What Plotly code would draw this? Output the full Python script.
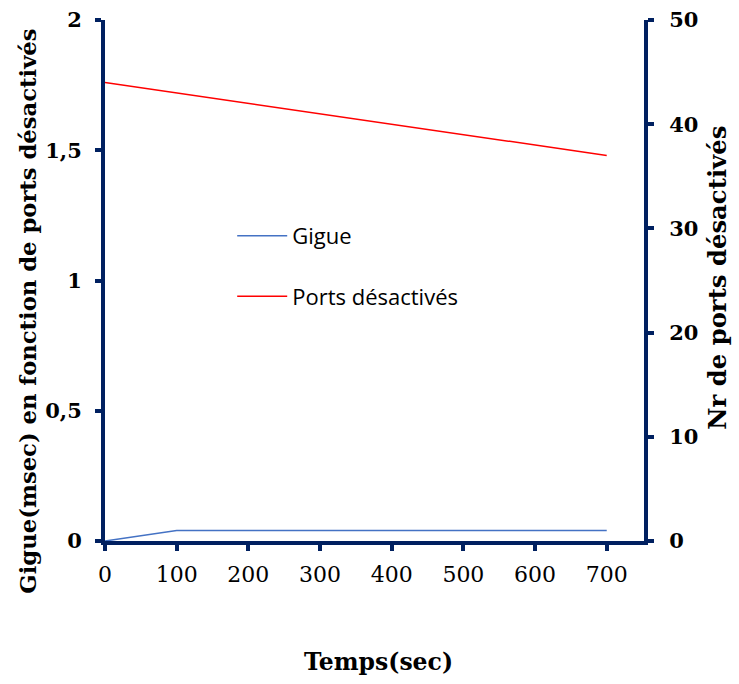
import plotly.graph_objects as go

# Measured data
temps = [0, 100, 200, 300, 400, 500, 600, 700]
gigue = [0, 0.04, 0.04, 0.04, 0.04, 0.04, 0.04, 0.04]
ports = [44, 43, 42, 41, 40, 39, 38, 37]

navy = "#002060"
serif = "DejaVu Serif"

fig = go.Figure()
fig.add_trace(go.Scatter(x=temps, y=gigue, mode="lines", name="Gigue",
                         line=dict(color="#4472C4", width=1.5),
                         legendgroup="a"))
fig.add_trace(go.Scatter(x=temps, y=ports, mode="lines", name="Ports désactivés",
                         line=dict(color="#FF0000", width=1.5),
                         yaxis="y2", legendgroup="b"))

axis_common = dict(showline=True, linecolor=navy, linewidth=4,
                   ticks="outside", tickcolor=navy, tickwidth=4, ticklen=6,
                   showgrid=False, zeroline=False, automargin=False)

fig.update_layout(
    width=739, height=684,
    margin=dict(l=105, r=95, t=20, b=143),
    paper_bgcolor="white", plot_bgcolor="white",
    separators=", ",
    xaxis=dict(range=[0, 752], tickvals=temps, **axis_common,
               ticklabelstandoff=5,
               tickfont=dict(family=serif, size=22, color="black")),
    yaxis=dict(range=[0, 2], dtick=0.5, **axis_common,
               ticklabelstandoff=9,
               tickfont=dict(family=serif, size=21, color="black", weight="bold")),
    yaxis2=dict(range=[0, 50], dtick=10, overlaying="y", side="right",
                **axis_common, ticklabelstandoff=11,
                tickfont=dict(family=serif, size=21, color="black", weight="bold")),
    legend=dict(x=0.236, y=0.626, xanchor="left", yanchor="top",
                bgcolor="rgba(0,0,0,0)", traceorder="grouped", tracegroupgap=29,
                itemwidth=50,
                font=dict(family="Open Sans", size=22, color="black")),
    annotations=[
        dict(text="Temps(sec)", xref="paper", yref="paper", x=0.507, y=-0.232,
             showarrow=False, xanchor="center", yanchor="middle",
             font=dict(family=serif, size=23.5, color="black", weight="bold")),
        dict(text="Gigue(msec) en fonction de ports désactivés", xref="paper",
             yref="paper", x=-0.143, y=0.442, textangle=-90, showarrow=False,
             xanchor="center", yanchor="middle",
             font=dict(family=serif, size=22.7, color="black", weight="bold")),
        dict(text="Nr de ports désactivés", xref="paper", yref="paper",
             x=1.137, y=0.505, textangle=-90, showarrow=False,
             xanchor="center", yanchor="middle",
             font=dict(family=serif, size=24.3, color="black", weight="bold")),
    ],
)

fig.write_html("out.html")
